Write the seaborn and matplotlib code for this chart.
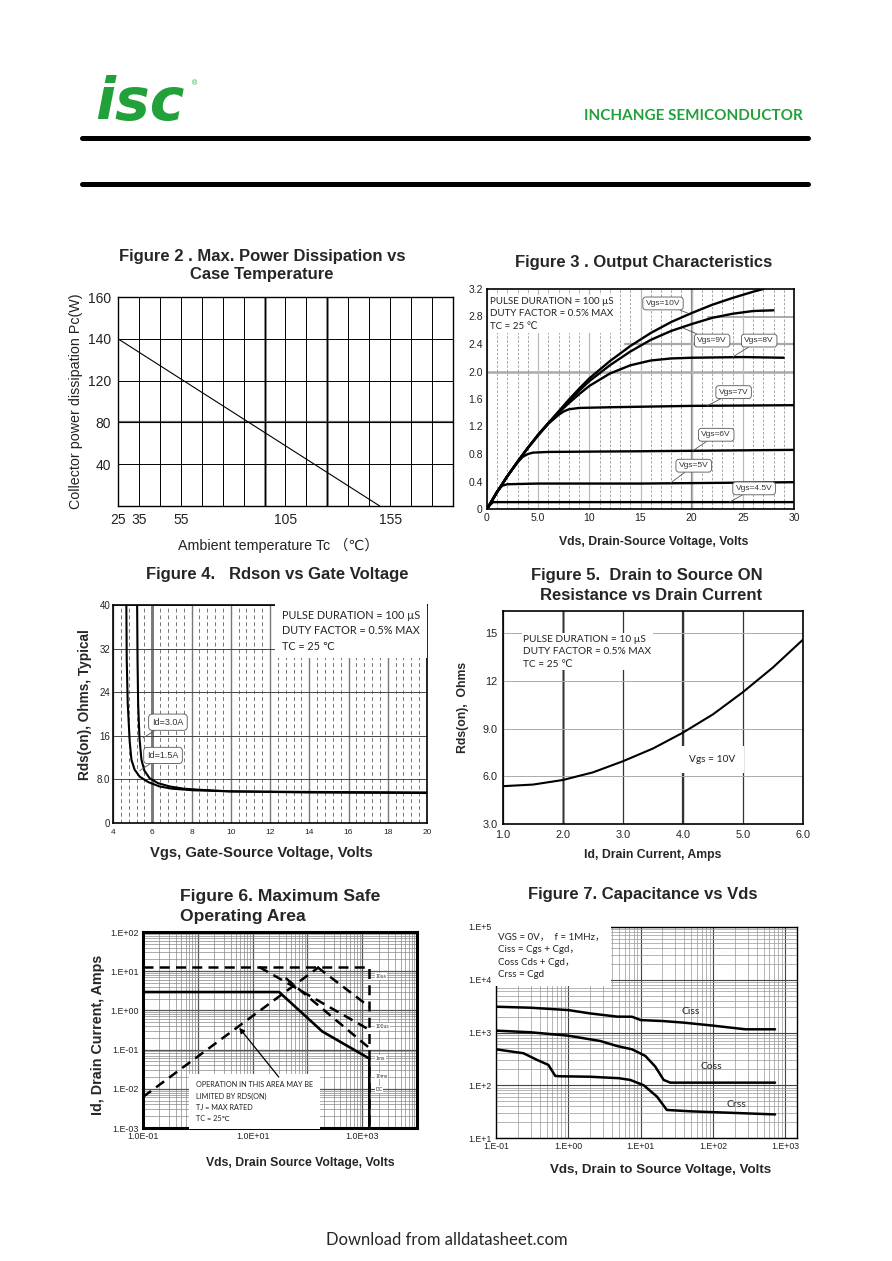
import numpy as np
import pandas as pd
import matplotlib
matplotlib.use("Agg")
import matplotlib.pyplot as plt
import seaborn as sns
from matplotlib.lines import Line2D
from matplotlib.ticker import FixedLocator, FixedFormatter, LogLocator, NullFormatter

# ---------------- data ----------------
# Figure 2 : max power dissipation vs case temperature
f2_tc = [25, 150]
f2_pc = [140, 0]
f2_ytick_values = [40, 80, 120, 140, 160]
f2_xtick_labels = [25, 35, 55, 105, 155]

# Figure 3 : output characteristics (Vds, Id) per Vgs
f3_labels = ["Vgs=10V", "Vgs=9V", "Vgs=8V", "Vgs=7V", "Vgs=6V", "Vgs=5V", "Vgs=4.5V"]
f3_vds_10 = [0, 1, 2, 3, 4, 5, 6, 7, 8, 9, 10, 12, 14, 16, 18, 20, 22, 24, 26, 27]
f3_id_10 = [0, 0.25, 0.48, 0.69, 0.89, 1.08, 1.25, 1.42, 1.59, 1.75, 1.9, 2.15, 2.37, 2.56, 2.72, 2.85, 2.97, 3.07, 3.16, 3.2]
f3_vds_9 = [0, 1, 2, 3, 4, 5, 6, 7, 8, 9, 10, 12, 14, 16, 18, 20, 22, 24, 26, 28]
f3_id_9 = [0, 0.25, 0.48, 0.69, 0.89, 1.08, 1.25, 1.41, 1.57, 1.72, 1.86, 2.09, 2.29, 2.46, 2.59, 2.69, 2.78, 2.84, 2.88, 2.89]
f3_vds_8 = [0, 1, 2, 3, 4, 5, 6, 7, 8, 9, 10, 12, 14, 16, 18, 20, 25, 29]
f3_id_8 = [0, 0.25, 0.48, 0.69, 0.89, 1.08, 1.25, 1.4, 1.54, 1.67, 1.79, 1.97, 2.09, 2.16, 2.19, 2.2, 2.21, 2.2]
f3_vds_7 = [0, 1, 2, 3, 4, 5, 6, 7, 7.5, 8, 9, 12, 20, 30]
f3_id_7 = [0, 0.25, 0.48, 0.69, 0.89, 1.07, 1.24, 1.37, 1.42, 1.45, 1.47, 1.48, 1.5, 1.51]
f3_vds_6 = [0, 1, 2, 3, 3.5, 4, 4.5, 6, 15, 30]
f3_id_6 = [0, 0.25, 0.48, 0.68, 0.76, 0.8, 0.82, 0.83, 0.84, 0.86]
f3_vds_5 = [0, 0.5, 1, 1.5, 2, 5, 15, 30]
f3_id_5 = [0, 0.13, 0.26, 0.34, 0.36, 0.37, 0.37, 0.39]
f3_vds_45 = [0, 0.3, 0.6, 1, 30]
f3_id_45 = [0, 0.06, 0.1, 0.1, 0.1]

# Figure 4 : Rds(on) vs Vgs
f4_labels = ["Id=3.0A", "Id=1.5A"]
f4_vgs_15 = [4.68, 4.70, 4.75, 4.85, 4.94, 5.1, 5.36, 5.8, 6.38, 7.0, 8.1, 10, 14, 20]
f4_rds_15 = [40, 30, 22, 15, 11.6, 9.8, 8.5, 7.5, 6.7, 6.3, 6.0, 5.8, 5.7, 5.6]
f4_vgs_30 = [5.23, 5.25, 5.28, 5.35, 5.45, 5.6, 5.87, 6.3, 6.9, 7.6, 8.4, 10, 14, 20]
f4_rds_30 = [40, 30, 22, 15.5, 11.6, 9.6, 8.2, 7.3, 6.7, 6.3, 6.1, 5.8, 5.6, 5.5]

# Figure 5 : Rds(on) vs drain current
f5_id = [1.0, 1.5, 2.0, 2.5, 3.0, 3.5, 4.0, 4.5, 5.0, 5.5, 6.0]
f5_rds = [5.38, 5.48, 5.77, 6.25, 6.95, 7.75, 8.75, 9.9, 11.3, 12.85, 14.6]

# Figure 6 : safe operating area
f6_rds_v = [0.1, 163]
f6_rds_i = [0.0062, 12.8]
f6_lim_v = [0.1, 1350, 1350]
f6_lim_i = [12.8, 12.8, 0.001]
f6_10us_v = [151, 1350]
f6_10us_i = [12.8, 1.24]
f6_100us_v = [13.2, 1350]
f6_100us_i = [12.8, 0.32]
f6_1ms_v = [40, 1350]
f6_1ms_i = [6.7, 0.11]
f6_dc_v = [0.1, 30.5, 187, 1350, 1350]
f6_dc_i = [2.94, 2.94, 0.29, 0.059, 0.001]
f6_pulse_labels = ["10us", "100us", "1ms", "10ms", "DC"]

# Figure 7 : capacitance vs Vds
f7_ciss_v = [0.1, 0.3, 1, 2, 4.7, 7.6, 10, 20, 39, 100, 280, 720]
f7_ciss = [3080, 2950, 2660, 2300, 2000, 1990, 1720, 1650, 1540, 1350, 1150, 1150]
f7_coss_v = [0.1, 0.3, 1, 2.76, 4.7, 7.6, 11.6, 15.9, 20.8, 25.7, 720]
f7_coss = [1085, 1010, 870, 690, 555, 480, 360, 226, 126, 112, 112]
f7_crss_v = [0.1, 0.24, 0.37, 0.53, 0.66, 0.77, 2, 5, 7.2, 11, 16.8, 23, 50, 720]
f7_crss = [480, 404, 302, 243, 150, 148, 145, 136, 126, 100, 61, 34, 32, 28]

# ---------------- style ----------------
sns.set_style("white")
plt.rcParams["font.family"] = ["Liberation Sans", "DejaVu Sans", "Noto Sans CJK SC"]
NOTE_FONT = ["Lato", "DejaVu Sans", "Noto Sans CJK SC"]
GREEN = "#22a03a"
TITLE_FS = 12

W, H = 892, 1261
fig = plt.figure(figsize=(W / 100, H / 100), dpi=100)
fig.patch.set_facecolor("white")


def mk(l, t, r, b):
    return fig.add_axes([l / W, 1 - b / H, (r - l) / W, (b - t) / H])


def ftext(x, y, s, **kw):
    kw.setdefault("ha", "center")
    kw.setdefault("va", "center")
    return fig.text(x / W, 1 - y / H, s, **kw)


def style(ax, lw=1.0):
    for s in ax.spines.values():
        s.set_visible(True)
        s.set_color("black")
        s.set_linewidth(lw)
    ax.tick_params(length=0, colors="#222")
    ax.set_xlabel("")
    ax.set_ylabel("")
    ax.set_axisbelow(True)


def line(ax, x, y, lw=1.6, color="black", ls="-"):
    sns.lineplot(x=x, y=y, ax=ax, estimator=None, sort=False, color=color,
                 linewidth=lw, linestyle=ls)


# ---------------- header / footer ----------------
ftext(95, 120, "isc", ha="left", va="baseline", fontsize=42, weight="bold",
      style="italic", color=GREEN, family=["DejaVu Sans"])
ftext(194, 84, "®", fontsize=5, color=GREEN)
ftext(803, 116, "INCHANGE SEMICONDUCTOR", ha="right", fontsize=11, weight="bold",
      color=GREEN, family=["Lato", "DejaVu Sans"])
for yy in (138, 184):
    fig.add_artist(Line2D([82 / W, 808 / W], [1 - yy / H, 1 - yy / H], color="black",
                          lw=3.6, transform=fig.transFigure))
ftext(447, 1240, "Download from alldatasheet.com", fontsize=12, family=["Lato", "DejaVu Sans"])

# ---------------- Figure 2 ----------------
ax2 = mk(118, 297, 453, 506)
line(ax2, f2_tc, f2_pc, lw=0.8)
brk_vals = [0, 40, 80, 120, 140, 160]
brk_pos = [0, 1, 2, 3, 4, 5]
ax2.set_yscale("function", functions=(lambda v: np.interp(v, brk_vals, brk_pos),
                                      lambda p: np.interp(p, brk_pos, brk_vals)))
ax2.set_xlim(25, 185)
ax2.set_ylim(0, 160)
xt2 = list(range(25, 186, 10))
ax2.xaxis.set_major_locator(FixedLocator(xt2))
ax2.xaxis.set_major_formatter(FixedFormatter([str(v) if v in f2_xtick_labels else "" for v in xt2]))
ax2.yaxis.set_major_locator(FixedLocator(f2_ytick_values))
ax2.yaxis.set_major_formatter(FixedFormatter([str(v) for v in f2_ytick_values]))
ax2.yaxis.set_minor_formatter(NullFormatter())
ax2.grid(True, color="black", lw=0.7)
ax2.axvline(95, color="#666", lw=1.8, zorder=0.5)
ax2.axvline(125, color="#666", lw=1.8, zorder=0.5)
ax2.axhline(80, color="#666", lw=1.6, zorder=0.5)
style(ax2, 1.0)
ax2.tick_params(labelsize=10, pad=5)
ftext(262, 257, "Figure 2 . Max. Power Dissipation vs", fontsize=TITLE_FS, weight="bold")
ftext(262, 275, "Case Temperature", fontsize=TITLE_FS, weight="bold")
ftext(76, 401, "Collector power dissipation Pc(W)", rotation=90, fontsize=10.3, color="#222")
ftext(278, 545, "Ambient temperature Tc （℃）", fontsize=10.3, color="#222")

# ---------------- Figure 3 ----------------
ax3 = mk(487, 289, 794, 509)
f3_series = [(f3_vds_10, f3_id_10), (f3_vds_9, f3_id_9), (f3_vds_8, f3_id_8),
             (f3_vds_7, f3_id_7), (f3_vds_6, f3_id_6), (f3_vds_5, f3_id_5),
             (f3_vds_45, f3_id_45)]
for xs, ys in f3_series:
    line(ax3, xs, ys, lw=1.7)
ax3.set_xlim(0, 30)
ax3.set_ylim(0, 3.2)
ax3.set_xticks([0, 5, 10, 15, 20, 25, 30])
ax3.set_xticklabels(["0", "5.0", "10", "15", "20", "25", "30"])
ax3.set_yticks(np.arange(0, 3.21, 0.4))
ax3.set_yticklabels(["0", "0.4", "0.8", "1.2", "1.6", "2.0", "2.4", "2.8", "3.2"])
ax3.xaxis.set_minor_locator(FixedLocator(np.arange(1, 30, 1)))
ax3.grid(True, which="minor", axis="x", color="#999", lw=0.6, ls=(0, (3, 2)))
ax3.grid(True, which="major", axis="x", color="#bbb", lw=0.9)
ax3.axvline(20, color="#888", lw=1.6, zorder=0.5)
ax3.axhline(2.0, color="#aaa", lw=1.8, zorder=0.5)
ax3.axhline(2.4, xmin=0.45, color="#aaa", lw=1.6, zorder=0.5)
ax3.axhline(2.8, xmin=0.72, color="#aaa", lw=1.4, zorder=0.5)
style(ax3, 1.2)
ax3.tick_params(labelsize=7.5, pad=3)
f3_box_xy = [(17.2, 2.99), (22.0, 2.45), (26.6, 2.45), (24.1, 1.70), (22.4, 1.08), (20.2, 0.63), (26.1, 0.30)]
f3_tip_xy = [(19.6, 2.85), (19.2, 2.63), (24.0, 2.21), (21.5, 1.5), (20.1, 0.845), (17.9, 0.375), (23.7, 0.1)]
for lab, bxy, txy in zip(f3_labels, f3_box_xy, f3_tip_xy):
    ax3.annotate(lab, xy=txy, xytext=bxy, ha="center", va="center", fontsize=6,
                 color="#333", bbox=dict(boxstyle="round,pad=0.35", fc="white", ec="#555", lw=0.6),
                 arrowprops=dict(arrowstyle="-", color="#555", lw=0.6, shrinkA=0, shrinkB=0))
ax3.text(0.3, 3.09, "PULSE DURATION = 100 µS\nDUTY FACTOR = 0.5% MAX\nTC = 25 ℃", ha="left",
         va="top", fontsize=7, linespacing=1.55, color="#222", family=NOTE_FONT,
         bbox=dict(fc="white", ec="none", pad=1))
ftext(644, 262, "Figure 3 . Output Characteristics", fontsize=TITLE_FS, weight="bold")
ftext(654, 542, "Vds, Drain-Source Voltage, Volts", fontsize=8.8, weight="bold")

# ---------------- Figure 4 ----------------
ax4 = mk(113, 605, 427, 823)
line(ax4, f4_vgs_15, f4_rds_15, lw=1.5)
line(ax4, f4_vgs_30, f4_rds_30, lw=1.5)
ax4.set_xlim(4, 20)
ax4.set_ylim(0, 40)
ax4.set_xticks(np.arange(4, 21, 2))
ax4.set_yticks([0, 8, 16, 24, 32, 40])
ax4.set_yticklabels(["0", "8.0", "16", "24", "32", "40"])
ax4.xaxis.set_minor_locator(FixedLocator([v for v in np.arange(4.4, 20, 0.4) if abs(v / 2 - round(v / 2)) > 0.05]))
ax4.grid(True, which="major", axis="y", color="#444", lw=0.7)
ax4.grid(True, which="major", axis="x", color="#777", lw=1.0)
ax4.grid(True, which="minor", axis="x", color="#777", lw=0.7, ls=(0, (4, 3)))
ax4.axvline(6, color="#555", lw=1.8, zorder=0.5)
style(ax4, 1.2)
ax4.tick_params(axis="x", labelsize=6, pad=4)
ax4.tick_params(axis="y", labelsize=7, pad=2)
f4_box_xy = [(6.8, 18.5), (6.55, 12.4)]
f4_tip_xy = [(5.53, 15.6), (5.36, 9.6)]
for lab, bxy, txy in zip(f4_labels, f4_box_xy, f4_tip_xy):
    ax4.annotate(lab, xy=txy, xytext=bxy, ha="center", va="center", fontsize=6.5,
                 color="#333", bbox=dict(boxstyle="round,pad=0.4", fc="white", ec="#555", lw=0.6),
                 arrowprops=dict(arrowstyle="-", color="#555", lw=0.6, shrinkA=0, shrinkB=0))
ax4.text(12.6, 39.0, "PULSE DURATION = 100 µS\nDUTY FACTOR = 0.5% MAX\nTC = 25 ℃", ha="left",
         va="top", fontsize=7.8, linespacing=1.45, color="#222", family=NOTE_FONT,
         bbox=dict(fc="white", ec="none", boxstyle="square,pad=0.6"))
ftext(277, 575, "Figure 4.   Rdson vs Gate Voltage", fontsize=TITLE_FS, weight="bold")
ftext(85, 705, "Rds(on), Ohms, Typical", rotation=90, fontsize=9.8, weight="bold")
ftext(261, 853, "Vgs, Gate-Source Voltage, Volts", fontsize=10.6, weight="bold")

# ---------------- Figure 5 ----------------
ax5 = mk(503, 611, 803, 824)
line(ax5, f5_id, f5_rds, lw=1.5)
ax5.set_xlim(1, 6)
ax5.set_ylim(3, 16.4)
ax5.set_xticks([1, 2, 3, 4, 5, 6])
ax5.set_xticklabels(["1.0", "2.0", "3.0", "4.0", "5.0", "6.0"])
ax5.set_yticks([3, 6, 9, 12, 15])
ax5.set_yticklabels(["3.0", "6.0", "9.0", "12", "15"])
ax5.grid(True, axis="y", color="#aaa", lw=0.7)
ax5.grid(True, axis="x", color="#333", lw=0.9)
ax5.axvline(2, color="#999", lw=2.0, zorder=0.5)
ax5.axvline(4, color="#333", lw=1.6, zorder=0.5)
style(ax5, 1.2)
ax5.tick_params(labelsize=7.8, pad=4)
ax5.text(1.34, 14.9, "PULSE DURATION = 10 µS\nDUTY FACTOR = 0.5% MAX\nTC = 25 ℃", ha="left",
         va="top", fontsize=7.3, linespacing=1.5, color="#222", family=NOTE_FONT,
         bbox=dict(fc="white", ec="none", pad=1))
ax5.text(4.1, 7.07, "Vgs = 10V", ha="left", va="center", fontsize=7.3, color="#222",
         family=NOTE_FONT, bbox=dict(fc="white", ec="none", boxstyle="square,pad=0.9"))
ftext(647, 576, "Figure 5.  Drain to Source ON", fontsize=TITLE_FS, weight="bold")
ftext(651, 595, "Resistance vs Drain Current", fontsize=TITLE_FS, weight="bold")
ftext(463, 707, "Rds(on),  Ohms", rotation=90, fontsize=8.8, weight="bold")
ftext(653, 855, "Id, Drain Current, Amps", fontsize=8.8, weight="bold")

# ---------------- Figure 6 ----------------
ax6 = mk(143, 932, 417, 1128)
ax6.set_xscale("log")
ax6.set_yscale("log")
DASH = (0, (4, 2.5))
line(ax6, f6_rds_v, f6_rds_i, lw=1.8, ls=DASH)
line(ax6, f6_lim_v, f6_lim_i, lw=1.8, ls=DASH)
line(ax6, f6_10us_v, f6_10us_i, lw=1.8, ls=DASH)
line(ax6, f6_100us_v, f6_100us_i, lw=1.8, ls=DASH)
line(ax6, f6_1ms_v, f6_1ms_i, lw=1.8, ls=DASH)
line(ax6, f6_dc_v, f6_dc_i, lw=1.9)
ax6.set_xlim(0.1, 1e4)
ax6.set_ylim(1e-3, 1e2)
xt6 = [0.1, 1, 10, 100, 1000, 10000]
ax6.xaxis.set_major_locator(FixedLocator(xt6))
ax6.xaxis.set_major_formatter(FixedFormatter(["1.0E-01", "", "1.0E+01", "", "1.0E+03", ""]))
yt6 = [1e-3, 1e-2, 1e-1, 1, 10, 100]
ax6.yaxis.set_major_locator(FixedLocator(yt6))
ax6.yaxis.set_major_formatter(FixedFormatter(["1.E-03", "1.E-02", "1.E-01", "1.E+00", "1.E+01", "1.E+02"]))
for a in (ax6.xaxis, ax6.yaxis):
    a.set_minor_locator(LogLocator(base=10, subs=np.arange(2, 10), numticks=20))
    a.set_minor_formatter(NullFormatter())
ax6.grid(True, which="major", color="#555", lw=0.9)
ax6.grid(True, which="minor", color="#888", lw=0.5)
style(ax6, 2.2)
ax6.tick_params(labelsize=6.4, pad=3)
ax6.text(0.93, 0.0155, "OPERATION IN THIS AREA MAY BE\nLIMITED BY RDS(ON)\nTJ = MAX RATED\nTC = 25℃",
         ha="left", va="top", fontsize=5.2, linespacing=1.7, color="#222", family=NOTE_FONT,
         bbox=dict(fc="white", ec="none", boxstyle="square,pad=1.0"))
ax6.annotate("", xy=(5.7, 0.36), xytext=(30, 0.02),
             arrowprops=dict(arrowstyle="-|>", color="black", lw=0.9, mutation_scale=8,
                             shrinkA=0, shrinkB=0))
f6_lab_y = [7.4, 0.39, 0.061, 0.021, 0.0095]
for lab, yy in zip(f6_pulse_labels, f6_lab_y):
    ax6.text(1750, yy, lab, ha="left", va="center", fontsize=3.6, color="#333",
             bbox=dict(fc="white", ec="none", pad=0.5))
ftext(180, 897, "Figure 6. Maximum Safe", ha="left", fontsize=12.6, weight="bold")
ftext(180, 917, "Operating Area", ha="left", fontsize=12.6, weight="bold")
ftext(98, 1035, "Id, Drain Current, Amps", rotation=90, fontsize=10.3, weight="bold")
ftext(300, 1163, "Vds, Drain Source Voltage, Volts", fontsize=8.8, weight="bold")

# ---------------- Figure 7 ----------------
ax7 = mk(496, 927, 797, 1138)
ax7.set_xscale("log")
ax7.set_yscale("log")
line(ax7, f7_ciss_v, f7_ciss, lw=1.8)
line(ax7, f7_coss_v, f7_coss, lw=1.8)
line(ax7, f7_crss_v, f7_crss, lw=1.8)
ax7.set_xlim(0.1, 1450)
ax7.set_ylim(10, 1e5)
xt7 = [0.1, 1, 10, 100, 1000]
ax7.xaxis.set_major_locator(FixedLocator(xt7))
ax7.xaxis.set_major_formatter(FixedFormatter(["1.E-01", "1.E+00", "1.E+01", "1.E+02", "1.E+03"]))
yt7 = [10, 100, 1000, 1e4, 1e5]
ax7.yaxis.set_major_locator(FixedLocator(yt7))
ax7.yaxis.set_major_formatter(FixedFormatter(["1.E+1", "1.E+2", "1.E+3", "1.E+4", "1.E+5"]))
for a in (ax7.xaxis, ax7.yaxis):
    a.set_minor_locator(LogLocator(base=10, subs=np.arange(2, 10), numticks=20))
    a.set_minor_formatter(NullFormatter())
ax7.grid(True, which="major", color="#444", lw=0.8)
ax7.grid(True, which="minor", color="#999", lw=0.5)
style(ax7, 1.0)
ax7.tick_params(labelsize=6.3, pad=3)
ax7.text(0.106, 78000, "VGS = 0V，  f = 1MHz，\nCiss = Cgs + Cgd，\nCoss Cds + Cgd，\nCrss = Cgd",
         ha="left", va="top", fontsize=7, linespacing=1.5, color="#222",
         family=["Lato", "Noto Sans CJK SC"],
         bbox=dict(fc="white", ec="none", boxstyle="square,pad=0.7"))
ax7.text(37, 2460, "Ciss", ha="left", va="center", fontsize=7.5, color="#222", family=NOTE_FONT)
ax7.text(67, 226, "Coss", ha="left", va="center", fontsize=7.5, color="#222", family=NOTE_FONT)
ax7.text(156, 42.7, "Crss", ha="left", va="center", fontsize=7.5, color="#222", family=NOTE_FONT)
ftext(643, 895, "Figure 7. Capacitance vs Vds", fontsize=TITLE_FS, weight="bold")
ftext(661, 1170, "Vds, Drain to Source Voltage, Volts", fontsize=9.6, weight="bold")

fig.savefig("out.png", dpi=100, facecolor="white")
